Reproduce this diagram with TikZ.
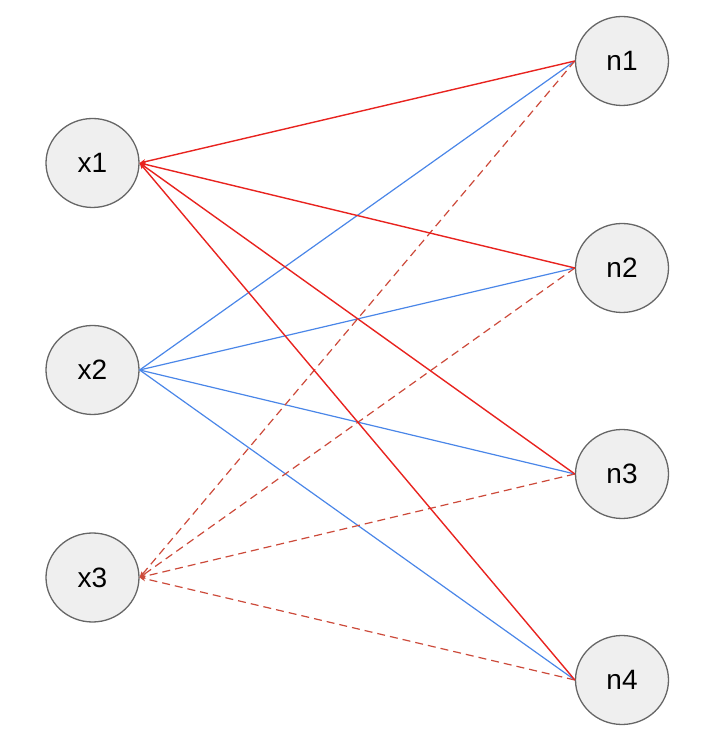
\documentclass[tikz,border=0pt]{standalone}
\usepackage{fontspec}
\setmainfont{Liberation Sans}
\usetikzlibrary{shapes.geometric,arrows.meta}
\definecolor{nodefill}{HTML}{EFEFEF}
\definecolor{nodeline}{HTML}{666666}
\definecolor{redline}{HTML}{E8231F}
\definecolor{blueline}{HTML}{4A86E8}
\definecolor{dashline}{HTML}{CC4A3A}
\tikzset{
  neuron/.style={ellipse, draw=nodeline, line width=1.3pt, fill=nodefill,
    minimum width=93pt, minimum height=89pt, inner sep=0pt,
    font=\fontsize{28}{30}\selectfont},
  redconn/.style={draw=redline, line width=1.4pt},
  blueconn/.style={draw=blueline, line width=1.2pt},
  dashconn/.style={draw=dashline, line width=1.2pt, dash pattern=on 8pt off 5pt},
  tip/.style={-{Stealth[length=6pt,width=5pt]}}
}
\begin{document}
\begin{tikzpicture}[x=1pt,y=1pt]
\useasboundingbox (0,0) rectangle (720,747);
\node[neuron] (x1) at (92.5,584) {x1};
\node[neuron] (x2) at (92.5,377) {x2};
\node[neuron] (x3) at (92.5,169.5) {x3};
\node[neuron] (n1) at (622,686) {n1};
\node[neuron] (n2) at (622,479) {n2};
\node[neuron] (n3) at (622,273) {n3};
\node[neuron] (n4) at (622,67) {n4};
% blue connectors
\foreach \n in {n1,n2,n3,n4}
  \draw[blueconn] (x2.east) -- (\n.west);
% dashed connectors
\foreach \n in {n1,n2,n3,n4}
  \draw[dashconn, tip] (\n.west) -- (x3.east);
% red connectors
\foreach \n in {n1,n2,n3,n4}
  \draw[redconn, tip] (\n.west) -- (x1.east);
\end{tikzpicture}
\end{document}
